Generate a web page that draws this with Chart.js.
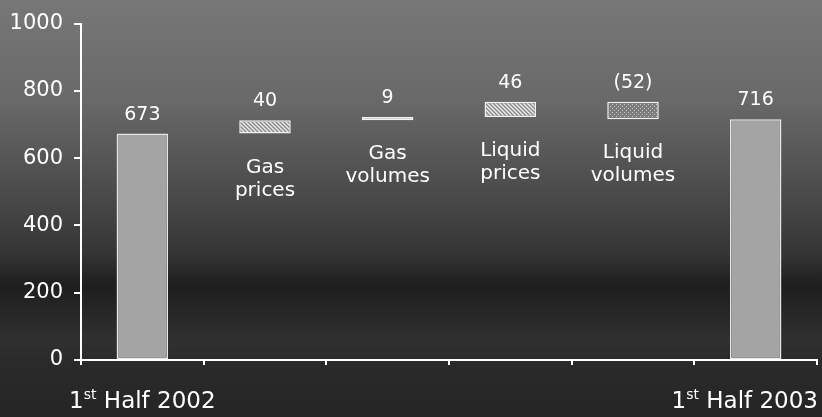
<!DOCTYPE html>
<html>
<head>
<meta charset="utf-8">
<script src="https://cdn.jsdelivr.net/npm/chart.js@4/dist/chart.umd.min.js"></script>
<style>
  html, body { margin: 0; padding: 0; }
  body {
    width: 822px; height: 417px; overflow: hidden;
    background: linear-gradient(to bottom,
      #777777 0px, #696969 100px, #484848 200px, #343434 255px,
      #1e1e1e 285px, #262626 310px, #303030 340px, #2a2a2a 365px, #252525 417px);
  }
  canvas { display: block; }
</style>
</head>
<body>
<canvas id="chart" width="822" height="417"></canvas>
<script>
// Operating result bridge, first half 2002 to first half 2003
const categories = ['1st Half 2002', 'Gas prices', 'Gas volumes', 'Liquid prices', 'Liquid volumes', '1st Half 2003'];
const startValue = 673;
const changes = [40, 9, 46, -52];
const endValue = 716;
const yTicks = [0, 200, 400, 600, 800, 1000];

// Floating [low, high] ranges for the waterfall
const ranges = [];
const valueText = [];
ranges.push([0, startValue]);
valueText.push(String(startValue));
let running = startValue;
changes.forEach(c => {
  ranges.push([running, running + c]);
  valueText.push(c < 0 ? '(' + Math.abs(c) + ')' : String(c));
  running += c;
});
ranges.push([0, endValue]);
valueText.push(String(endValue));

const FONT = '"DejaVu Sans", Verdana, sans-serif';

function makePattern(draw, size) {
  const c = document.createElement('canvas');
  c.width = size; c.height = size;
  const g = c.getContext('2d');
  draw(g, size);
  return c.getContext('2d').createPattern(c, 'repeat');
}
const hatch = makePattern((g, s) => {
  g.fillStyle = '#8a8a8a'; g.fillRect(0, 0, s, s);
  g.strokeStyle = '#f0f0f0'; g.lineWidth = 1.3;
  g.beginPath();
  g.moveTo(0, 0); g.lineTo(s, s);
  g.moveTo(-s / 2, s / 2); g.lineTo(s / 2, s * 1.5);
  g.moveTo(s / 2, -s / 2); g.lineTo(s * 1.5, s / 2);
  g.stroke();
}, 4);
const dots = makePattern((g, s) => {
  g.fillStyle = '#7c7c7c'; g.fillRect(0, 0, s, s);
  g.fillStyle = '#c8c8c8'; g.fillRect(0, 0, 1, 1); g.fillRect(2, 2, 1, 1);
}, 4);

const fills = ['#a4a4a4', hatch, '#d8d8d8', hatch, dots, '#a4a4a4'];
const borders = ['#e6e6e6', '#f2f2f2', '#f2f2f2', '#f2f2f2', '#f2f2f2', '#e6e6e6'];

function drawOrdinalLabel(ctx, text, cx, baseline, chartWidth) {
  const m = text.match(/^(\d+)(st|nd|rd|th)(.*)$/);
  const big = '23px ' + FONT, small = '14px ' + FONT;
  const parts = m ? [[m[1], big, 0], [m[2], small, -9], [m[3], big, 0]] : [[text, big, 0]];
  let total = 0;
  parts.forEach(p => { ctx.font = p[1]; total += ctx.measureText(p[0]).width; });
  let x = cx - total / 2;
  x = Math.max(4, Math.min(x, chartWidth - 4 - total));
  ctx.textAlign = 'left';
  parts.forEach(p => {
    ctx.font = p[1];
    ctx.fillText(p[0], x, baseline + p[2]);
    x += ctx.measureText(p[0]).width;
  });
}

const labelPlugin = {
  id: 'bridgeLabels',
  afterDatasetsDraw(chart) {
    const ctx = chart.ctx;
    const y = chart.scales.y;
    const bars = chart.getDatasetMeta(0).data;
    ctx.save();
    ctx.fillStyle = '#ffffff';
    ctx.textBaseline = 'alphabetic';
    bars.forEach((bar, i) => {
      const lo = Math.min(ranges[i][0], ranges[i][1]);
      const hi = Math.max(ranges[i][0], ranges[i][1]);
      const topPx = y.getPixelForValue(hi);
      const botPx = y.getPixelForValue(lo);
      ctx.font = '19px ' + FONT;
      ctx.textAlign = 'center';
      ctx.fillText(valueText[i], bar.x, topPx - 14);
      if (i > 0 && i < bars.length - 1) {
        ctx.font = '20px ' + FONT;
        categories[i].split(' ').forEach((line, k) => {
          ctx.fillText(line, bar.x, botPx + 39 + k * 23);
        });
      } else {
        drawOrdinalLabel(ctx, categories[i], bar.x, 408, chart.width);
      }
    });
    ctx.restore();
  }
};

new Chart(document.getElementById('chart'), {
  type: 'bar',
  data: {
    labels: categories,
    datasets: [{
      data: ranges,
      backgroundColor: fills,
      borderColor: borders,
      borderWidth: 1.5,
      borderSkipped: false,
      barPercentage: 0.42,
      categoryPercentage: 1.0
    }]
  },
  options: {
    responsive: false,
    animation: false,
    layout: { padding: { top: 23, right: 5, left: 0, bottom: 0 } },
    plugins: { legend: { display: false }, tooltip: { enabled: false } },
    scales: {
      x: {
        ticks: { display: false },
        grid: { drawOnChartArea: false, color: '#ffffff', lineWidth: 2, tickLength: 5, offset: true },
        border: { color: '#ffffff', width: 2 },
        afterFit(s) { s.height = 57; }
      },
      y: {
        min: 0, max: 1000,
        afterBuildTicks(s) { s.ticks = yTicks.map(v => ({ value: v })); },
        ticks: {
          color: '#ffffff', font: { family: FONT, size: 21 }, padding: 11,
          callback: v => String(v)
        },
        grid: { drawOnChartArea: false, color: '#ffffff', lineWidth: 2, tickLength: 7 },
        border: { color: '#ffffff', width: 2 },
        afterFit(s) { s.width = 81; }
      }
    }
  },
  plugins: [labelPlugin]
});
</script>
</body>
</html>
